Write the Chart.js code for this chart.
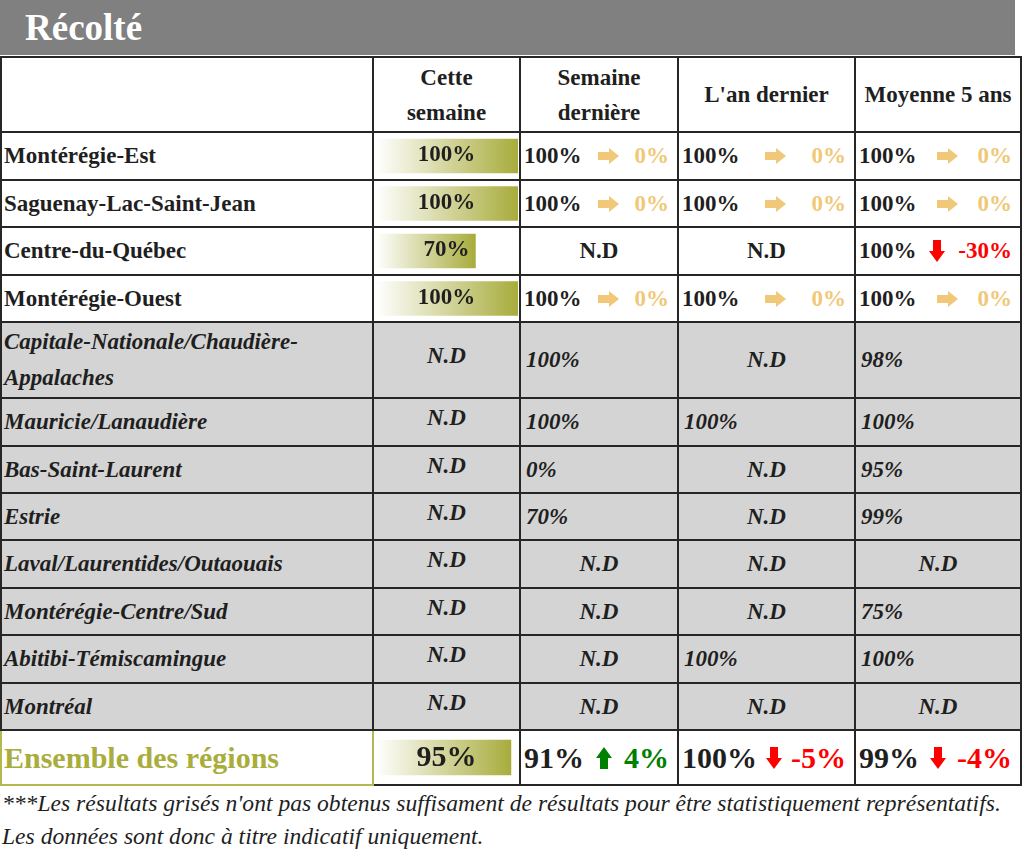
<!DOCTYPE html>
<html lang="fr">
<head>
<meta charset="UTF-8">
<script src="https://cdn.jsdelivr.net/npm/chart.js"></script>
<title>Récolté</title>
<style>
    body {
        margin: 0;
        width: 1024px;
        height: 851px;
        overflow: hidden;
        position: relative;
        background: #fff;
        font-family: 'Liberation Serif', 'Times New Roman', serif;
        color: #1f1f1f;
    }
    .titre {
        position: absolute;
        left: 0; top: 0;
        width: 1015px; height: 55px;
        box-sizing: border-box;
        padding-left: 25px;
        background: #808080;
        color: #fff;
        font-weight: bold;
        font-size: 37px;
        line-height: 55px;
    }
    .grille {
        position: absolute;
        left: 0; top: 56px;
        display: grid;
        grid-template-columns: 370px 145px 156px 175px 164px;
        grid-template-rows: 73px 46px 45px 46px 45px 74px 46px 45px 45px 46px 45px 46px 45px 53px;
        gap: 2px;
        padding: 2px;
        background: #262626;
    }
    .c {
        position: relative;
        display: flex;
        align-items: center;
        background: #fff;
        font-weight: bold;
        font-size: 23px;
        white-space: nowrap;
    }
    .entete { justify-content: center; text-align: center; line-height: 35px; }
    .region { padding-left: 2px; white-space: normal; line-height: 36px; }
    .gris { background: #d4d4d4; font-style: italic; }
    .centre { justify-content: center; }
    .gauche { padding-left: 5px; }
    .cmp { justify-content: space-between; padding: 0 8px 0 3px; }
    .nd1 { padding-bottom: 8px; box-sizing: border-box; }
    .barre { justify-content: center; }
    .barre .zone { position: absolute; left: 2px; right: 1px; top: 0; bottom: 0; }
    .barre span { position: relative; z-index: 1; top: -2px; }
    .total { font-size: 30px; }
    .total.region {
        color: #a9ad3b;
        margin: 0 -2px -2px -2px;
        border: 2px solid #b5b84e;
        border-top: 0;
        padding-left: 2px;
    }
    .note {
        position: absolute;
        left: 2px; top: 787px;
        font-style: italic;
        font-size: 23.6px;
        line-height: 33px;
        white-space: nowrap;
    }
    svg { display: block; }
</style>
</head>
<body>
<div class="titre">Récolté</div>
<div class="grille" id="grille"></div>
<div class="note">***Les résultats grisés n'ont pas obtenus suffisament de résultats pour être statistiquement représentatifs.<br>Les données sont donc à titre indicatif uniquement.</div>

<script>
    // colonnes
    const enTetes = [['Cette', 'semaine'], ['Semaine', 'dernière'], ["L'an dernier"], ['Moyenne 5 ans']];

    // régions (les 8 dernières sont grisées : pas assez de résultats)
    const regions = [
        'Montérégie-Est',
        'Saguenay-Lac-Saint-Jean',
        'Centre-du-Québec',
        'Montérégie-Ouest',
        'Capitale-Nationale/Chaudière-Appalaches',
        'Mauricie/Lanaudière',
        'Bas-Saint-Laurent',
        'Estrie',
        'Laval/Laurentides/Outaouais',
        'Montérégie-Centre/Sud',
        'Abitibi-Témiscamingue',
        'Montréal'
    ];
    const grise = [false, false, false, false, true, true, true, true, true, true, true, true];

    // % récolté (null = N.D)
    const cetteSemaine    = [100, 100, 70, 100, null, null, null, null, null, null, null, null];
    const semaineDerniere = [100, 100, null, 100, 100, 100, 0, 70, null, null, null, null];
    const anDernier       = [100, 100, null, 100, null, 100, null, null, null, null, 100, null];
    const moyenne5Ans     = [100, 100, 100, 100, 98, 100, 95, 99, null, 75, 100, null];

    // ligne du total
    const ensembleLabel = 'Ensemble des régions';
    const ensembleValeurs = [95, 91, 100, 99]; // cette semaine, semaine dernière, l'an dernier, moyenne 5 ans

    const OLIVE = '#a8ac3c';
    const grille = document.getElementById('grille');

    function cell(cls, html) {
        var d = document.createElement('div');
        d.className = 'c ' + cls;
        if (html !== undefined) d.innerHTML = html;
        grille.appendChild(d);
        return d;
    }

    function fleche(ecart) {
        if (ecart === 0) {
            return '<svg width="21" height="16" viewBox="0 0 21 16"><polygon points="0,4 11,4 11,0 21,8 11,16 11,12 0,12" fill="#f0c878"/></svg>';
        }
        if (ecart < 0) {
            return '<svg width="16" height="22" viewBox="0 0 16 22"><polygon points="4,0 12,0 12,11 16,11 8,22 0,11 4,11" fill="#ff0000"/></svg>';
        }
        return '<svg width="16" height="22" viewBox="0 0 16 22"><polygon points="8,0 16,11 12,11 12,22 4,22 4,11 0,11" fill="#008000"/></svg>';
    }

    function couleurEcart(ecart) {
        if (ecart === 0) return '#f0c878';
        return ecart < 0 ? '#ff0000' : '#008000';
    }

    function comparaison(actuel, reference, extra) {
        var ecart = actuel - reference;
        cell('cmp ' + extra,
            '<span>' + reference + '%</span>' + fleche(ecart) +
            '<span style="color:' + couleurEcart(ecart) + '">' + ecart + '%</span>');
    }

    var barres = [];
    function celluleBarre(valeur, label, extra, epaisseur) {
        var d = cell('barre ' + extra);
        var zone = document.createElement('div');
        zone.className = 'zone';
        var canvas = document.createElement('canvas');
        zone.appendChild(canvas);
        d.appendChild(zone);
        var s = document.createElement('span');
        s.textContent = valeur + '%';
        d.appendChild(s);
        barres.push({ canvas: canvas, valeur: valeur, label: label, epaisseur: epaisseur });
    }

    // en-tête
    cell('entete');
    enTetes.forEach(function (lignes) { cell('entete', lignes.join('<br>')); });

    // lignes des régions
    for (let i = 0; i < regions.length; i++) {
        var g = grise[i] ? ' gris' : '';
        cell('region' + g, regions[i]);

        if (cetteSemaine[i] !== null) {
            celluleBarre(cetteSemaine[i], regions[i], '', 34);
        } else {
            cell('centre nd1' + g, 'N.D');
        }

        [semaineDerniere, anDernier, moyenne5Ans].forEach(function (serie) {
            var ref = serie[i];
            if (ref === null) {
                cell('centre' + g, 'N.D');
            } else if (grise[i] || cetteSemaine[i] === null) {
                cell('gauche' + g, ref + '%');
            } else {
                comparaison(cetteSemaine[i], ref, '');
            }
        });
    }

    // total
    cell('region total', ensembleLabel);
    celluleBarre(ensembleValeurs[0], ensembleLabel, 'total', 35);
    for (let k = 1; k < ensembleValeurs.length; k++) {
        comparaison(ensembleValeurs[0], ensembleValeurs[k], 'total');
    }

    // barres de données "Cette semaine"
    barres.forEach(function (b) {
        new Chart(b.canvas.getContext('2d'), {
            type: 'bar',
            data: {
                labels: [b.label],
                datasets: [{
                    data: [b.valeur],
                    borderWidth: 0,
                    barThickness: b.epaisseur,
                    backgroundColor: function (ctx) {
                        var chart = ctx.chart;
                        if (!chart.chartArea || !chart.scales.x) return OLIVE;
                        var x0 = chart.scales.x.getPixelForValue(0);
                        var x1 = chart.scales.x.getPixelForValue(ctx.raw);
                        var grad = chart.ctx.createLinearGradient(x0, 0, x1, 0);
                        grad.addColorStop(0, '#ffffff');
                        grad.addColorStop(1, OLIVE);
                        return grad;
                    }
                }]
            },
            options: {
                indexAxis: 'y',
                responsive: true,
                maintainAspectRatio: false,
                animation: false,
                layout: { padding: 0 },
                plugins: { legend: { display: false }, tooltip: { enabled: false } },
                scales: {
                    x: { min: 0, max: 100, display: false },
                    y: { display: false }
                }
            }
        });
    });
</script>
</body>
</html>
